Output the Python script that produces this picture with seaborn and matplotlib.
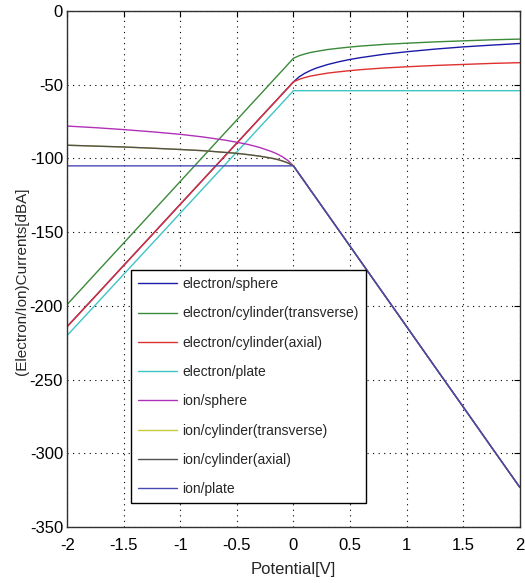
import numpy as np
import pandas as pd
import matplotlib
matplotlib.use("Agg")
import matplotlib.pyplot as plt
import seaborn as sns

# potential grid [V]
potential = [-2, -1.75, -1.5, -1.25, -1, -0.8, -0.6, -0.5, -0.4, -0.3, -0.2, -0.15, -0.1, -0.05, 0,
             0.05, 0.1, 0.15, 0.2, 0.3, 0.4, 0.5, 0.6, 0.8, 1, 1.25, 1.5, 1.75, 2]

electron_sphere = [-214, -193.3, -172.5, -151.8, -131, -114.4, -97.8, -89.5, -81.2, -72.9, -64.6, -60.5, -56.3, -52.2, -48,
                   -44.6, -42.2, -40.3, -38.7, -36.3, -34.4, -32.8, -31.5, -29.3, -27.6, -25.8, -24.3, -23.1, -22.0]
electron_cyl_trans = [-199, -178.1, -157.3, -136.4, -115.5, -98.8, -82.1, -73.8, -65.4, -57.1, -48.7, -44.5, -40.4, -36.2, -32,
                      -30.3, -29.1, -28.1, -27.4, -26.1, -25.2, -24.4, -23.7, -22.6, -21.8, -20.9, -20.2, -19.5, -19.0]
electron_cyl_axial = [-214, -193.3, -172.5, -151.8, -131, -114.4, -97.8, -89.5, -81.2, -72.9, -64.6, -60.5, -56.3, -52.2, -48,
                      -46.3, -45.1, -44.1, -43.4, -42.1, -41.2, -40.4, -39.7, -38.6, -37.8, -36.9, -36.2, -35.5, -35.0]
electron_plate = [-220, -199.3, -178.5, -157.8, -137, -120.4, -103.8, -95.5, -87.2, -78.9, -70.6, -66.5, -62.3, -58.2, -54,
                  -54, -54, -54, -54, -54, -54, -54, -54, -54, -54, -54, -54, -54, -54]
ion_sphere = [-78.0, -79.1, -80.4, -81.9, -83.6, -85.4, -87.6, -89.0, -90.5, -92.5, -95.1, -96.7, -98.7, -101.3, -105,
              -110.5, -115.9, -121.4, -126.8, -137.7, -148.6, -159.5, -170.4, -192.2, -214, -241.3, -268.5, -295.8, -323]
ion_cyl_trans = [-91.0, -91.6, -92.2, -93.0, -93.9, -94.7, -95.9, -96.5, -97.4, -98.4, -99.7, -100.5, -101.6, -103.0, -105,
                 -110.5, -115.9, -121.4, -126.8, -137.7, -148.6, -159.5, -170.4, -192.2, -214, -241.3, -268.5, -295.8, -323]
ion_cyl_axial = [-91.0, -91.6, -92.2, -93.0, -93.9, -94.7, -95.9, -96.5, -97.4, -98.4, -99.7, -100.5, -101.6, -103.0, -105,
                 -110.5, -115.9, -121.4, -126.8, -137.7, -148.6, -159.5, -170.4, -192.2, -214, -241.3, -268.5, -295.8, -323]
ion_plate = [-105, -105, -105, -105, -105, -105, -105, -105, -105, -105, -105, -105, -105, -105, -105,
             -110.5, -115.9, -121.4, -126.8, -137.7, -148.6, -159.5, -170.4, -192.2, -214, -241.3, -268.5, -295.8, -323]

labels = ["electron/sphere", "electron/cylinder(transverse)", "electron/cylinder(axial)", "electron/plate",
          "ion/sphere", "ion/cylinder(transverse)", "ion/cylinder(axial)", "ion/plate"]
series = [electron_sphere, electron_cyl_trans, electron_cyl_axial, electron_plate,
          ion_sphere, ion_cyl_trans, ion_cyl_axial, ion_plate]
colors = ["#1a1aa8", "#3a8a3a", "#e03030", "#40c4c4", "#b030b8", "#c8c840", "#505050", "#4848b4"]

sns.set_style("white")
plt.rcParams["font.family"] = ["Liberation Sans Narrow", "Liberation Sans", "DejaVu Sans"]

fig = plt.figure(figsize=(5.25, 5.83), dpi=100)
ax = fig.add_axes([0.128, 0.096, 0.862, 0.885])

for lab, vals, col in zip(labels, series, colors):
    df = pd.DataFrame({"Potential": potential, "Current": vals})
    sns.lineplot(data=df, x="Potential", y="Current", color=col, linewidth=1.0,
                 label=lab, sort=False, ax=ax, legend=False)

ax.set_xlim(-2, 2)
ax.set_ylim(-350, 0)
ax.set_xticks(np.arange(-2, 2.01, 0.5))
ax.set_yticks(np.arange(-350, 1, 50))
ax.set_xticklabels(["-2", "-1.5", "-1", "-0.5", "0", "0.5", "1", "1.5", "2"])
ax.set_yticklabels([str(v) for v in range(-350, 1, 50)])
ax.grid(True, color="black", linestyle=(0, (1, 4)), linewidth=0.8)
ax.tick_params(direction="in", length=4, width=0.8, top=True, right=True,
               labelsize=12, colors="black")
ax.tick_params(axis="x", pad=8)
ax.tick_params(axis="y", pad=3)
for s in ax.spines.values():
    s.set_color("#303030")
    s.set_linewidth(1.0)

ax.set_xlabel("Potential[V]", fontsize=12)
ax.xaxis.set_label_coords(0.5, -0.068)
ax.set_ylabel("(Electron/Ion)Currents[dBA]", fontsize=11,
              family=["Liberation Sans", "DejaVu Sans"])
ax.yaxis.set_label_coords(-0.085, 0.477)

handles, hl = ax.get_legend_handles_labels()
leg = ax.legend(handles, hl, loc="lower left", bbox_to_anchor=(0.141, 0.0465),
                fontsize=10, labelspacing=1.1, handlelength=2.8, handletextpad=0.4,
                borderpad=0.5, frameon=True, fancybox=False, framealpha=1.0,
                edgecolor="black", borderaxespad=0)
leg.get_frame().set_linewidth(1.0)

fig.savefig("out.png", dpi=100)
